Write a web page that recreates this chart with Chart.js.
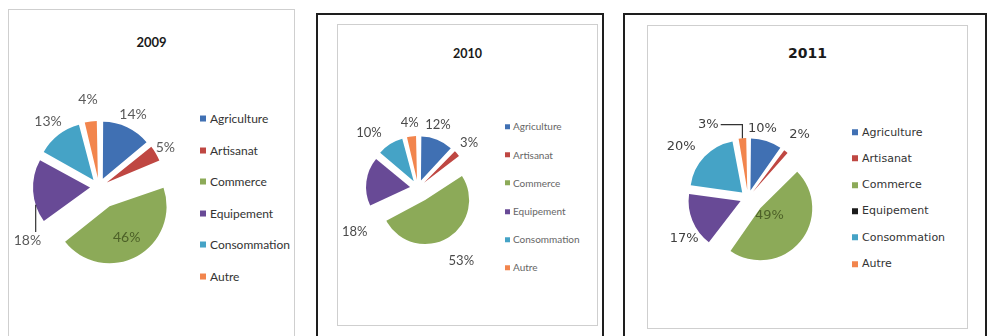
<!DOCTYPE html>
<html lang="fr">
<head>
  <meta charset="UTF-8" />
  <meta name="viewport" content="width=device-width, initial-scale=1.0"/>
  <title>Répartition par secteur 2009 - 2011</title>
  <script src="https://cdn.jsdelivr.net/npm/chart.js"></script>
  <style>
    body {
      margin: 0;
      width: 992px;
      height: 336px;
      overflow: hidden;
      position: relative;
      background: #fff;
    }

    .box {
      position: absolute;
      box-sizing: border-box;
    }

    .frame { border: 2px solid #1e1e1e; }
    .inner { border: 1px solid #cfcfcf; }

    canvas { position: absolute; }

    .title {
      position: absolute;
      transform: translate(-50%, -50%);
      color: #1a1a1a;
      white-space: nowrap;
    }

    .legend {
      position: absolute;
      margin: 0;
      padding: 0;
      list-style: none;
    }

    .legend li {
      position: absolute;
      left: 0;
      white-space: nowrap;
      transform: translateY(-50%);
      line-height: 1;
    }

    .legend span {
      display: inline-block;
      vertical-align: middle;
    }
  </style>
</head>
<body>
  <script>
    const categories = ['Agriculture', 'Artisanat', 'Commerce', 'Equipement', 'Consommation', 'Autre'];
    const sliceColors = ['#4070B3', '#BF4742', '#8CAA58', '#684A96', '#45A3C6', '#F2854D'];
    const years = ['2009', '2010', '2011'];
    const shares2009 = [14, 5, 46, 18, 13, 4];
    const shares2010 = [12, 3, 53, 18, 10, 4];
    const shares2011 = [10, 2, 49, 17, 20, 3];

    // layout of the three charts (page pixels)
    const panels = [
      {
        year: years[0], values: shares2009,
        frame: null,
        inner: [8, 9, 287, 345],
        center: [99, 187], radius: 57, shift: 9, bigShift: 22,
        title: { y: 42, font: 'bold 13px Lato' },
        labels: {
          font: '14px Lato', color: '#5a5a5a', insideColor: '#4d6128',
          kOut: 1.3, kIn: 0.62, bigInside: true,
          tweaks: { 0: { dd: -3 }, 1: { dd: -6 }, 3: { da: -33, dd: 6, leader: 'v', la: -14 }, 5: { dd: 5 } }
        },
        legend: { x: 200, y: 118, step: 31.6, font: '12px Lato', color: '#333', box: 6, gap: 4 }
      },
      {
        year: years[1], values: shares2010,
        frame: [316, 13, 288, 340],
        inner: [337, 24, 261, 302],
        center: [418, 188], radius: 44, shift: 8, bigShift: 14,
        title: { y: 53, font: 'bold 12.5px Lato' },
        labels: {
          font: '13px Lato', color: '#4a4a4a', insideColor: '#4a4a4a',
          kOut: 1.32, kIn: 0.6, bigInside: false,
          tweaks: { 0: { da: -4 }, 1: { dd: 2 }, 2: { dd: 13 }, 3: { da: -42, dd: 11 }, 4: { da: -9, dd: 8 } }
        },
        legend: { x: 505, y: 126, step: 28.2, font: '10px Lato', color: '#666', box: 5, gap: 3 }
      },
      {
        year: years[2], values: shares2011,
        frame: [623, 13, 364, 340],
        inner: [647, 25, 321, 304],
        center: [748, 198], radius: 52, shift: 8, bigShift: 16,
        title: { y: 53, font: 'bold 14px "DejaVu Sans"' },
        labels: {
          font: '13px "DejaVu Sans"', color: '#3f3f3f', insideColor: '#4d6128',
          kOut: 1.2, kIn: 0.23, bigInside: true,
          tweaks: { 0: { da: -6 }, 1: { dd: 11 }, 3: { da: -10, dd: 5 }, 4: { da: -6, dd: 14 }, 5: { da: -23, dd: 13, leader: 'hv', la: 0 } }
        },
        legend: { x: 852, y: 132, step: 26.3, font: '11px "DejaVu Sans"', color: '#333', box: 6, gap: 4,
                  swatches: sliceColors.map((c, i) => i === 3 ? '#1b1b1b' : c) }
      }
    ];

    const rad = deg => deg * Math.PI / 180;

    function makeBox(cls, [x, y, w, h]) {
      const el = document.createElement('div');
      el.className = 'box ' + cls;
      Object.assign(el.style, { left: x + 'px', top: y + 'px', width: w + 'px', height: h + 'px' });
      document.body.appendChild(el);
    }

    // percentage labels + leader lines, and equal radius for exploded slices
    function sliceLabels(p) {
      return {
        id: 'sliceLabels',
        beforeDatasetsDraw(chart) {
          const meta = chart.getDatasetMeta(0);
          const R = meta.controller.outerRadius;
          meta.data.forEach(arc => {
            const shift = (arc.options.offset || 0) / 4;
            const fix = 1 - Math.sin(Math.min(Math.PI, arc.circumference));
            arc.outerRadius = R - shift * fix;
          });
        },
        afterDatasetsDraw(chart) {
          const { ctx } = chart;
          const meta = chart.getDatasetMeta(0);
          const values = chart.data.datasets[0].data;
          const R = meta.controller.outerRadius;
          const big = values.indexOf(Math.max(...values));
          const opt = p.labels;

          ctx.save();
          ctx.font = opt.font;
          ctx.textAlign = 'center';
          ctx.textBaseline = 'middle';
          meta.data.forEach((arc, i) => {
            const shift = (arc.options.offset || 0) / 4;
            const mid = (arc.startAngle + arc.endAngle) / 2;
            const tw = opt.tweaks[i] || {};
            const inside = i === big && opt.bigInside;
            const a = mid + rad(tw.da || 0);
            const d = shift + R * (inside ? opt.kIn : opt.kOut) + (tw.dd || 0);
            const x = arc.x + Math.cos(a) * d;
            const y = arc.y + Math.sin(a) * d;
            const text = values[i] + '%';
            ctx.fillStyle = inside ? opt.insideColor : opt.color;
            ctx.fillText(text, x, y);

            if (tw.leader) {
              const ax = arc.x + Math.cos(mid) * shift;
              const ay = arc.y + Math.sin(mid) * shift;
              const la = mid + rad(tw.la || 0);
              const px = ax + Math.cos(la) * R;
              const py = ay + Math.sin(la) * R;
              ctx.strokeStyle = '#333';
              ctx.lineWidth = 1.2;
              ctx.beginPath();
              if (tw.leader === 'v') {
                ctx.moveTo(px, y - 8);
                ctx.lineTo(px, py);
              } else {
                const tx = x + ctx.measureText(text).width / 2 + 2;
                ctx.moveTo(tx, y);
                ctx.lineTo(px, y);
                ctx.lineTo(px, py);
              }
              ctx.stroke();
            }
          });
          ctx.restore();
        }
      };
    }

    panels.forEach(p => {
      if (p.frame) makeBox('frame', p.frame);
      makeBox('inner', p.inner);

      const [ix, iy, iw, ih] = p.inner;

      // title
      const title = document.createElement('div');
      title.className = 'title';
      title.textContent = p.year;
      Object.assign(title.style, { left: (ix + iw / 2) + 'px', top: p.title.y + 'px', font: p.title.font });
      document.body.appendChild(title);

      // legend
      const lg = p.legend;
      const ul = document.createElement('ul');
      ul.className = 'legend';
      Object.assign(ul.style, { left: lg.x + 'px', top: lg.y + 'px', font: lg.font, color: lg.color });
      categories.forEach((name, i) => {
        const li = document.createElement('li');
        li.style.top = (i * lg.step) + 'px';
        const sw = document.createElement('span');
        Object.assign(sw.style, {
          width: lg.box + 'px', height: lg.box + 'px', marginRight: lg.gap + 'px',
          background: (lg.swatches || sliceColors)[i]
        });
        const txt = document.createElement('span');
        txt.textContent = name;
        li.append(sw, txt);
        ul.appendChild(li);
      });
      document.body.appendChild(ul);

      // pie canvas inside the grey box
      const cx0 = ix + 1, cy0 = iy + 1;
      const W = iw - 2, H = Math.min(ih - 2, 336 - cy0);
      const canvas = document.createElement('canvas');
      canvas.width = W;
      canvas.height = H;
      Object.assign(canvas.style, { left: cx0 + 'px', top: cy0 + 'px', width: W + 'px', height: H + 'px' });
      document.body.appendChild(canvas);

      const lx = p.center[0] - cx0, ly = p.center[1] - cy0;
      const padding = {
        left: Math.max(0, 2 * lx - W), right: Math.max(0, W - 2 * lx),
        top: Math.max(0, 2 * ly - H), bottom: Math.max(0, H - 2 * ly)
      };

      const big = p.values.indexOf(Math.max(...p.values));

      new Chart(canvas, {
        type: 'pie',
        data: {
          labels: categories,
          datasets: [{
            data: p.values,
            backgroundColor: sliceColors,
            borderWidth: 0,
            offset: p.values.map((v, i) => (i === big ? p.bigShift : p.shift) * 4),
            radius: p.radius,
            clip: false
          }]
        },
        options: {
          responsive: false,
          animation: false,
          events: [],
          radius: p.radius,
          layout: { padding },
          plugins: {
            legend: { display: false },
            tooltip: { enabled: false }
          }
        },
        plugins: [sliceLabels(p)]
      });
    });
  </script>
</body>
</html>
